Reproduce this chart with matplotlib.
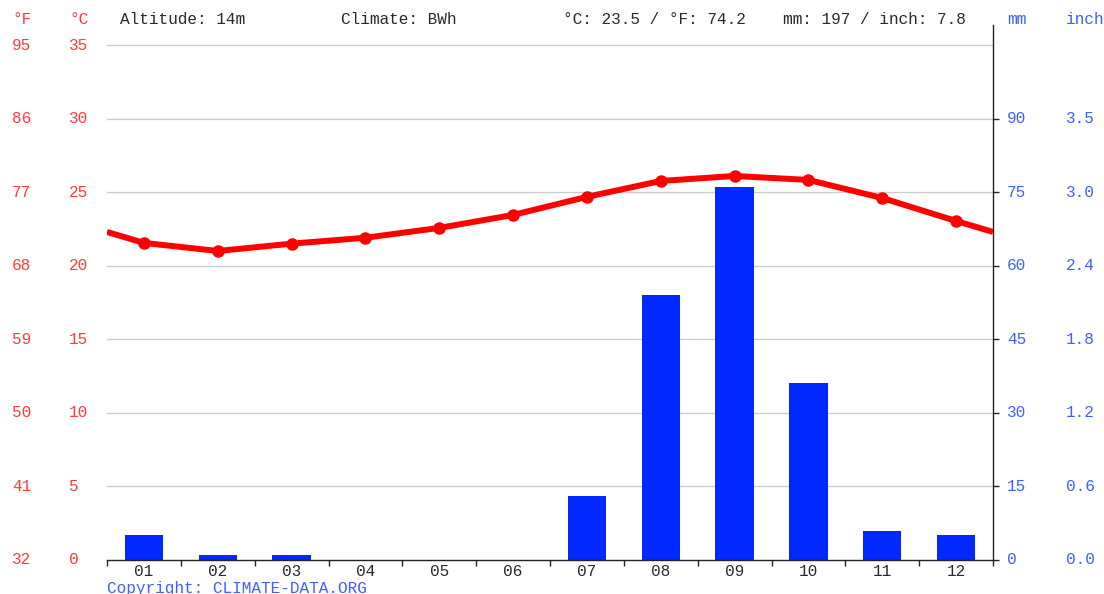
import matplotlib
matplotlib.use("Agg")
import matplotlib.pyplot as plt
import matplotlib.transforms as mtransforms
import numpy as np

months = ["01", "02", "03", "04", "05", "06", "07", "08", "09", "10", "11", "12"]
temp_c = [21.55, 21.0, 21.5, 21.9, 22.57, 23.45, 24.68, 25.76, 26.1, 25.83, 24.6, 23.04]
precip_mm = [5, 1, 1, 0, 0, 0, 13, 54, 76, 36, 6, 5]
c_ticks = [0, 5, 10, 15, 20, 25, 30, 35]
f_labels = ["32", "41", "50", "59", "68", "77", "86", "95"]
mm_ticks = [0, 15, 30, 45, 60, 75, 90]
inch_labels = ["0.0", "0.6", "1.2", "1.8", "2.4", "3.0", "3.5"]
header_alt = "Altitude: 14m"
header_clim = "Climate: BWh"
header_temp = "°C: 23.5 / °F: 74.2"
header_prec = "mm: 197 / inch: 7.8"

FONT = "Liberation Mono"
FS = 11.6
RED_TXT = "#ff3b3b"
BLUE_TXT = "#3f5fff"
DARK = "#2a2a2a"
W, H = 1104, 594

fig = plt.figure(figsize=(W / 100, H / 100), dpi=100)
left_px, right_px, top_px, bottom_px = 107, 993, 25, 560
ax = fig.add_axes([left_px / W, 1 - bottom_px / H, (right_px - left_px) / W, (bottom_px - top_px) / H])
ax2 = ax.twinx()

ppc = (560 - 45) / 35.0
ytop = (bottom_px - top_px) / ppc
ax.set_ylim(0, ytop)
ax2.set_ylim(0, ytop * 3)
ax.set_xlim(0, 12)

x = np.arange(12) + 0.5

ax2.set_zorder(1)
ax.set_zorder(2)
ax.patch.set_visible(False)
ax2.bar(x, precip_mm, width=0.52, color="#0028ff", zorder=2)

for v in c_ticks[1:]:
    ax2.axhline(v * 3, color="#cccccc", lw=1, zorder=1)

edge = (temp_c[-1] + temp_c[0]) / 2.0
lx = np.concatenate([[0], x, [12]])
ly = np.concatenate([[edge], temp_c, [edge]])
ax.plot(lx, ly, color="#ff0000", lw=4.3, solid_capstyle="butt", zorder=5, clip_on=True)
ax.plot(x, temp_c, "o", color="#ff0000", ms=8, zorder=6)

for a in (ax, ax2):
    for s in ("left", "top", "right", "bottom"):
        a.spines[s].set_visible(False)
ax2.spines["right"].set_visible(True)
ax2.spines["right"].set_color("#222222")
ax2.spines["right"].set_linewidth(1)
ax.spines["bottom"].set_visible(True)
ax.spines["bottom"].set_color("#222222")
ax.spines["bottom"].set_linewidth(1)

ax.set_yticks([])
ax2.set_yticks(mm_ticks)
ax2.set_yticklabels([])
ax2.tick_params(axis="y", direction="out", length=4, width=1, color="#222222", right=True, left=False)
ax.set_xticks(np.arange(13))
ax.set_xticklabels([])
ax.tick_params(axis="x", direction="out", length=4, width=1, color="#222222")
ax2.tick_params(axis="x", bottom=False, labelbottom=False)

def tx(px):
    return (px - left_px) / (right_px - left_px)

blend = mtransforms.blended_transform_factory(ax.transAxes, ax.transData)
blend2 = mtransforms.blended_transform_factory(ax2.transAxes, ax2.transData)
for v, fl in zip(c_ticks, f_labels):
    ax.text(tx(12), v, fl, transform=blend, ha="left", va="center", color=RED_TXT,
            fontsize=FS, family=FONT, clip_on=False)
    ax.text(tx(69), v, str(v), transform=blend, ha="left", va="center", color=RED_TXT,
            fontsize=FS, family=FONT, clip_on=False)
for v, il in zip(mm_ticks, inch_labels):
    ax2.text(tx(1007), v, str(v), transform=blend2, ha="left", va="center", color=BLUE_TXT,
             fontsize=FS, family=FONT, clip_on=False)
    ax2.text(tx(1066), v, il, transform=blend2, ha="left", va="center", color=BLUE_TXT,
             fontsize=FS, family=FONT, clip_on=False)

month_y = 1 - (571 - top_px) / (bottom_px - top_px)
for xi, m in zip(x, months):
    ax.text(xi, month_y, m, transform=mtransforms.blended_transform_factory(ax.transData, ax.transAxes),
            ha="center", va="center", color=DARK, fontsize=FS, family=FONT)

def ftext(px, py, s, color, ha="left"):
    fig.text(px / W, 1 - py / H, s, ha=ha, va="center", color=color, fontsize=FS, family=FONT)

ftext(12, 20, "°F", RED_TXT)
ftext(69, 20, "°C", RED_TXT)
ftext(1007, 20, "mm", BLUE_TXT)
ftext(1066, 20, "inch", BLUE_TXT)
ftext(120, 20, header_alt, DARK)
ftext(341, 20, header_clim, DARK)
ftext(563, 20, header_temp, DARK)
ftext(783, 20, header_prec, DARK)
ftext(107, 588, "Copyright: CLIMATE-DATA.ORG", BLUE_TXT)

fig.savefig("out.png", dpi=100)
